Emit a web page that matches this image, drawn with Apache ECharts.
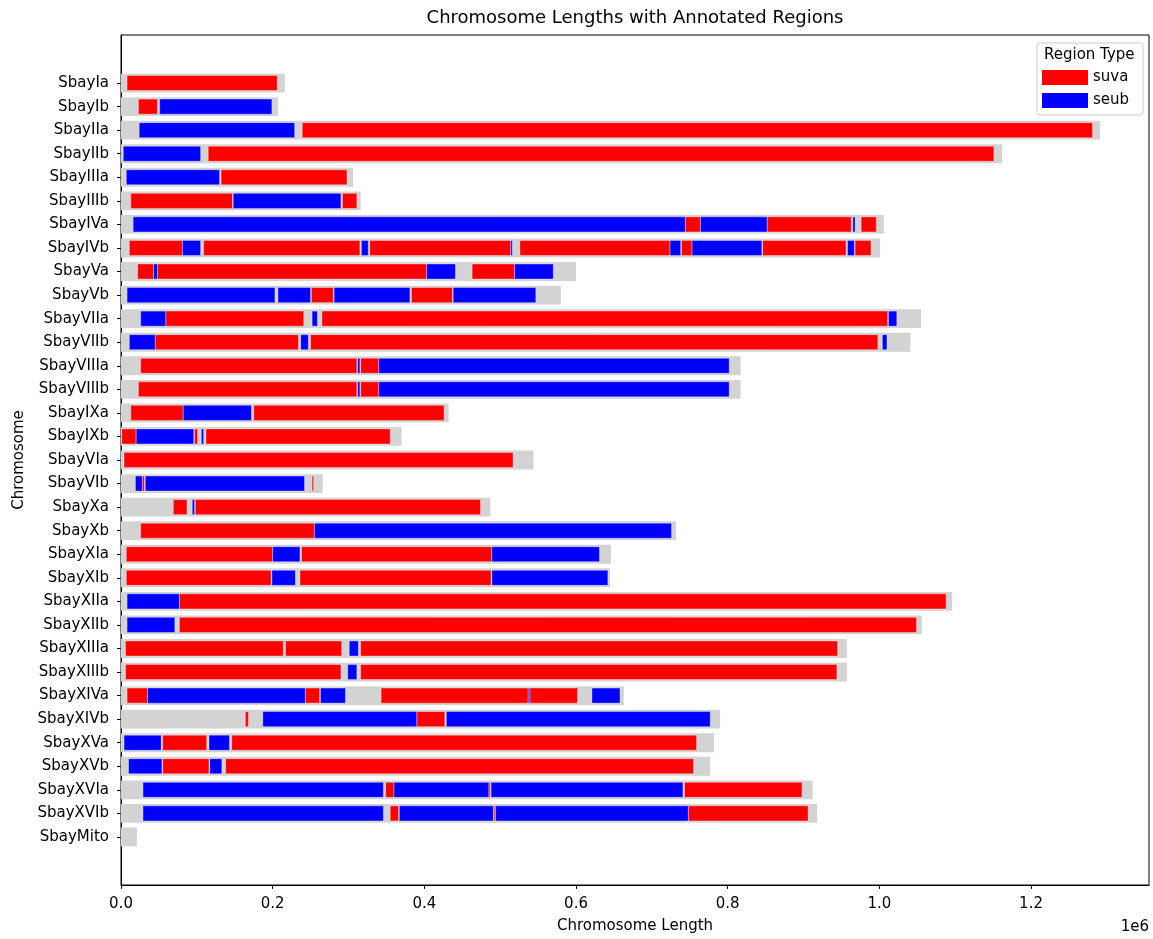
<!DOCTYPE html>
<html>
<head>
<meta charset="utf-8">
<script src="https://cdn.jsdelivr.net/npm/echarts@6/dist/echarts.min.js"></script>
<style>
html,body{margin:0;padding:0;background:#fff;}
#chart{width:1153px;height:939px;}
</style>
</head>
<body>
<div id="chart"></div>
<script>
// ---- data (positions in kb) ----
const KB = 1000;
const chromosomes = ['SbayIa','SbayIb','SbayIIa','SbayIIb','SbayIIIa','SbayIIIb','SbayIVa','SbayIVb','SbayVa','SbayVb','SbayVIIa','SbayVIIb','SbayVIIIa','SbayVIIIb','SbayIXa','SbayIXb','SbayVIa','SbayVIb','SbayXa','SbayXb','SbayXIa','SbayXIb','SbayXIIa','SbayXIIb','SbayXIIIa','SbayXIIIb','SbayXIVa','SbayXIVb','SbayXVa','SbayXVb','SbayXVIa','SbayXVIb','SbayMito'];
const lengths = [216,207,1291,1162,306,316,1006,1001,600,580,1055,1041,817,817,432,370,544,266,487,732,646,645,1096,1056,957,957,663,790,782,777,912,918,21];

const suva = [
 ['SbayIa',8,206],
 ['SbayIb',23,48],
 ['SbayIIa',239,1281],
 ['SbayIIb',115,1151],
 ['SbayIIIa',132,298],
 ['SbayIIIb',13,147],['SbayIIIb',292,311],
 ['SbayIVa',744,764],['SbayIVa',852,963],['SbayIVa',976,996],
 ['SbayIVb',11,81],['SbayIVb',109,315],['SbayIVb',328,514],['SbayIVb',526,724],['SbayIVb',739,753],['SbayIVb',846,956],['SbayIVb',968,989],
 ['SbayVa',22,43],['SbayVa',48,403],['SbayVa',463,519],
 ['SbayVb',251,280],['SbayVb',383,437],
 ['SbayVIIa',59,241],['SbayVIIa',265,1011],
 ['SbayVIIb',45,234],['SbayVIIb',250,998],
 ['SbayVIIIa',26,311],['SbayVIIIa',316,340],
 ['SbayVIIIb',23,311],['SbayVIIIb',316,340],
 ['SbayIXa',13,82],['SbayIXa',175,426],
 ['SbayIXb',1,20],['SbayIXb',97,101],['SbayIXb',112,355],
 ['SbayVIa',4,517],
 ['SbayVIb',28,31],['SbayVIb',252,254],
 ['SbayXa',69,87],['SbayXa',98,474],
 ['SbayXb',26,255],
 ['SbayXIa',7,200],['SbayXIa',238,489],
 ['SbayXIb',7,198],['SbayXIb',236,488],
 ['SbayXIIa',77,1088],
 ['SbayXIIb',77,1049],
 ['SbayXIIIa',6,214],['SbayXIIIa',217,291],['SbayXIIIa',316,945],
 ['SbayXIIIb',6,290],['SbayXIIIb',316,944],
 ['SbayXIVa',8,35],['SbayXIVa',243,262],['SbayXIVa',343,537],['SbayXIVa',539,602],
 ['SbayXIVb',164,168],['SbayXIVb',390,427],
 ['SbayXVa',55,113],['SbayXVa',146,759],
 ['SbayXVb',55,116],['SbayXVb',138,755],
 ['SbayXVIa',349,360],['SbayXVIa',485,487],['SbayXVIa',743,898],
 ['SbayXVIb',355,366],['SbayXVIb',492,494],['SbayXVIb',748,906]
];

const seub = [
 ['SbayIb',51,199],
 ['SbayIIa',24,229],
 ['SbayIIb',3,105],
 ['SbayIIIa',7,130],
 ['SbayIIIb',148,290],
 ['SbayIVa',16,744],['SbayIVa',764,852],['SbayIVa',965,968],
 ['SbayIVb',81,105],['SbayIVb',317,326],['SbayIVb',514,516],['SbayIVb',724,738],['SbayIVb',753,845],['SbayIVb',958,967],
 ['SbayVa',43,48],['SbayVa',403,441],['SbayVa',519,570],
 ['SbayVb',8,203],['SbayVb',207,250],['SbayVb',281,381],['SbayVb',438,547],
 ['SbayVIIa',26,59],['SbayVIIa',252,259],['SbayVIIa',1012,1023],
 ['SbayVIIb',11,45],['SbayVIIb',237,247],['SbayVIIb',1004,1010],
 ['SbayVIIIa',312,315],['SbayVIIIa',340,802],
 ['SbayVIIIb',312,315],['SbayVIIIb',340,802],
 ['SbayIXa',82,172],
 ['SbayIXb',20,96],['SbayIXb',106,109],
 ['SbayVIb',19,28],['SbayVIb',32,242],
 ['SbayXa',94,97],
 ['SbayXb',255,726],
 ['SbayXIa',200,236],['SbayXIa',489,631],
 ['SbayXIb',199,230],['SbayXIb',489,642],
 ['SbayXIIa',8,77],
 ['SbayXIIb',8,71],
 ['SbayXIIIa',301,313],
 ['SbayXIIIb',299,311],
 ['SbayXIVa',35,243],['SbayXIVa',263,296],['SbayXIVa',537,539],['SbayXIVa',621,658],
 ['SbayXIVb',187,390],['SbayXIVb',429,777],
 ['SbayXVa',4,53],['SbayXVa',116,143],
 ['SbayXVb',10,54],['SbayXVb',117,133],
 ['SbayXVIa',29,346],['SbayXVIa',360,485],['SbayXVIa',488,741],
 ['SbayXVIb',29,346],['SbayXVIb',367,491],['SbayXVIb',494,748]
];

const xTicks = [0, 200000, 400000, 600000, 800000, 1000000, 1200000];

// ---- build ----
const rowIdx = chromosomes.map((_, i) => i);
const greyData = lengths.map((l, i) => [0, l * KB, i]);
const toData = arr => arr.map(r => [r[1] * KB, r[2] * KB, chromosomes.indexOf(r[0])]);

function makeRender(h, withStroke) {
  return function (params, api) {
    const y = api.value(2);
    const s = api.coord([api.value(0), y]);
    const e = api.coord([api.value(1), y]);
    const bh = api.size([0, 1])[1] * h;
    return {
      type: 'rect',
      shape: { x: s[0], y: s[1] - bh / 2, width: Math.max(e[0] - s[0], 0.8), height: bh },
      style: {
        fill: api.visual('color'),
        stroke: withStroke ? 'rgba(255,255,255,0.45)' : null,
        lineWidth: withStroke ? 0.8 : 0
      }
    };
  };
}

const FONT = 'DejaVu Sans';
const chart = echarts.init(document.getElementById('chart'), null, { renderer: 'canvas' });
const xMax = Math.max(...lengths) * KB * 1.05;

chart.setOption({
  backgroundColor: '#ffffff',
  animation: false,
  textStyle: { fontFamily: FONT, color: '#000' },
  title: {
    text: 'Chromosome Lengths with Annotated Regions',
    left: 635, top: 9, textAlign: 'center', padding: 0,
    textStyle: { fontFamily: FONT, fontSize: 18, fontWeight: 'normal', color: '#000' }
  },
  legend: {
    orient: 'vertical',
    left: 1037, top: 43,
    padding: [27, 14, 7, 5],
    itemWidth: 46, itemHeight: 15, itemGap: 8,
    borderColor: '#cccccc', borderWidth: 1, borderRadius: 3,
    backgroundColor: 'rgba(255,255,255,0.8)',
    textStyle: { fontFamily: FONT, fontSize: 15, color: '#000' },
    data: [{ name: 'suva', icon: 'rect' }, { name: 'seub', icon: 'rect' }],
    selectedMode: false
  },
  graphic: [
    { type: 'text', left: 1090 - 46, top: 48, z: 100,
      style: { text: 'Region Type', fontFamily: FONT, fontSize: 15, fill: '#000' } },
    { type: 'text', right: 4, top: 920,
      style: { text: '1e6', fontFamily: FONT, fontSize: 15, fill: '#000' } }
  ],
  grid: {
    left: 121, right: 4, top: 35, bottom: 51,
    show: true, borderColor: '#000', borderWidth: 1, backgroundColor: 'transparent'
  },
  xAxis: {
    type: 'value', min: 0, max: xMax,
    name: 'Chromosome Length', nameLocation: 'middle', nameGap: 34,
    nameTextStyle: { fontFamily: FONT, fontSize: 15, color: '#000' },
    axisLine: { show: true, onZero: false, lineStyle: { color: '#000', width: 1 } },
    axisTick: { show: true, length: 4, lineStyle: { color: '#000' }, customValues: xTicks },
    axisLabel: { fontFamily: FONT, fontSize: 15, color: '#000', margin: 12,
      customValues: xTicks, formatter: v => (v / 1e6).toFixed(1) },
    splitLine: { show: false }
  },
  yAxis: {
    type: 'value', min: -2.04, max: 34.04, inverse: true,
    name: 'Chromosome', nameLocation: 'middle', nameGap: 91, nameRotate: 90,
    nameTextStyle: { fontFamily: FONT, fontSize: 15, color: '#000' },
    axisLine: { show: true, onZero: false, lineStyle: { color: '#000', width: 1 } },
    axisTick: { show: true, length: 4, lineStyle: { color: '#000' }, customValues: rowIdx },
    axisLabel: { fontFamily: FONT, fontSize: 15, color: '#000', margin: 12,
      customValues: rowIdx, formatter: v => chromosomes[Math.round(v)] || '' },
    splitLine: { show: false }
  },
  series: [
    { name: 'length', type: 'custom', renderItem: makeRender(0.8, false),
      itemStyle: { color: '#d3d3d3' }, encode: { x: [0, 1], y: 2 }, data: greyData, z: 1 },
    { name: 'suva', type: 'custom', renderItem: makeRender(0.64, true),
      itemStyle: { color: '#ff0000' }, encode: { x: [0, 1], y: 2 }, data: toData(suva), z: 2 },
    { name: 'seub', type: 'custom', renderItem: makeRender(0.64, true),
      itemStyle: { color: '#0000ff' }, encode: { x: [0, 1], y: 2 }, data: toData(seub), z: 2 }
  ]
});
</script>
</body>
</html>
